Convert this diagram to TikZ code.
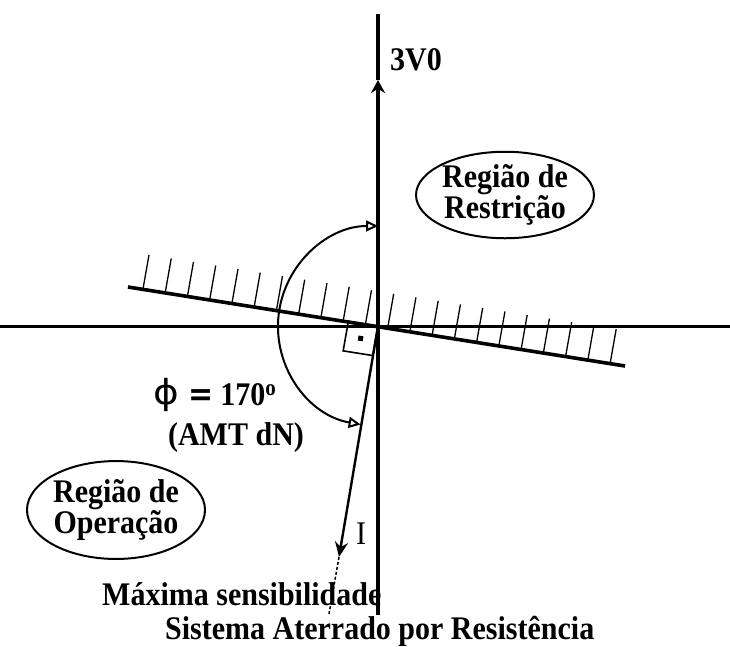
\documentclass[tikz,border=0pt]{standalone}
\usepackage{fontspec}
\setmainfont{Liberation Serif}
\newfontfamily\djv{DejaVu Sans}
\usetikzlibrary{arrows.meta,calc,shapes.geometric}
\begin{document}
\begin{tikzpicture}[x=1pt,y=1pt,
  vaxis/.style={line width=3.8pt, black},
  haxis/.style={line width=3pt, black},
  boundary/.style={line width=3.6pt, black},
  hatch/.style={line width=1.3pt, black},
  arcline/.style={line width=2pt, black},
  phasor/.style={line width=2.4pt, black},
  sqline/.style={line width=1.6pt, black},
  region/.style={draw, ellipse, line width=2pt, inner sep=0pt, align=center, yscale=1.1,
     font=\fontsize{30}{27.5}\selectfont\bfseries},
  boldlbl/.style={inner sep=0pt, yscale=1.1, font=\fontsize{30}{28}\selectfont\bfseries},
  plainlbl/.style={inner sep=0pt, yscale=1.1, font=\fontsize{30}{28}\selectfont},
  openarrow/.tip={Triangle[open,length=12pt,width=11pt]}
]
\useasboundingbox (0,0) rectangle (730,-646);
% key points
\coordinate (O) at (378,-326);
\coordinate (vtop) at (378,-14);
\coordinate (vmid) at (378,-80);
\coordinate (vbot) at (378,-615);
\coordinate (hl) at (0,-326);
\coordinate (hr) at (730,-326);
\coordinate (L) at (128,-287);
\coordinate (R) at (625,-366);
\coordinate (T) at (339,-557);
\coordinate (D) at (329,-614);
% axes
\draw[haxis] (hl) -- (hr);
\draw[vaxis] (vmid) -- (vtop);
\draw[vaxis, -{Stealth[length=13pt,width=14pt]}] (vbot) -- (vmid);
% boundary line with hatches
\draw[boundary] (L) -- (R);
\foreach \k in {0,...,21} {
  \draw[hatch] ($(L)!{0.03+0.94*\k/21}!(R)$) -- ++(80:35);
}
% right-angle mark
\coordinate (ul) at ($(O)+(171:30)$);
\coordinate (ui) at ($(O)+(260:30)$);
\coordinate (uc) at ($(ul)+(260:30)$);
\draw[sqline] (O) -- (ul) -- (uc) -- (ui) -- cycle;
\node[fill=black, inner sep=0pt, minimum size=5pt, rotate=-9] (dot) at ($(O)+(171:15)+(260:15)$) {};
% current phasor
\draw[phasor, -{Stealth[length=15pt,width=13pt]}] (O) -- (T);
\draw[line width=1.5pt, dash pattern=on 3pt off 2pt] (T) -- (D);
% angle arc
\draw[arcline, openarrow-openarrow]
  ($(O)+(260:100)$) arc[start angle=260, end angle=90, radius=100];
% labels
\node[boldlbl, anchor=base west] (v0) at (390,-70) {3V0};
\node[region, minimum width=162pt, minimum height=78pt] (restr) at (505,-195) {Região de\\Restrição};
\node[region, minimum width=178pt, minimum height=89pt] (oper) at (116,-510) {Região de\\Operação};
\node[inner sep=0pt, xscale=1.3, yscale=1.15, font=\fontsize{30}{28}\selectfont\djv] (phi) at (166,-395) {ϕ};
\node[boldlbl, anchor=base west] (ang) at (188,-405) {{\djv\bfseries =}\hspace{7pt}170\textsuperscript{o}};
\node[boldlbl] (amt) at (236,-438) {(AMT dN)};
\node[plainlbl] (ilbl) at (361,-534) {I};
\node[boldlbl, anchor=base west] (maxs) at (102,-605) {Máxima sensibilidade};
\node[boldlbl, anchor=base west] (sist) at (165,-639) {Sistema Aterrado por Resistência};
\end{tikzpicture}
\end{document}
